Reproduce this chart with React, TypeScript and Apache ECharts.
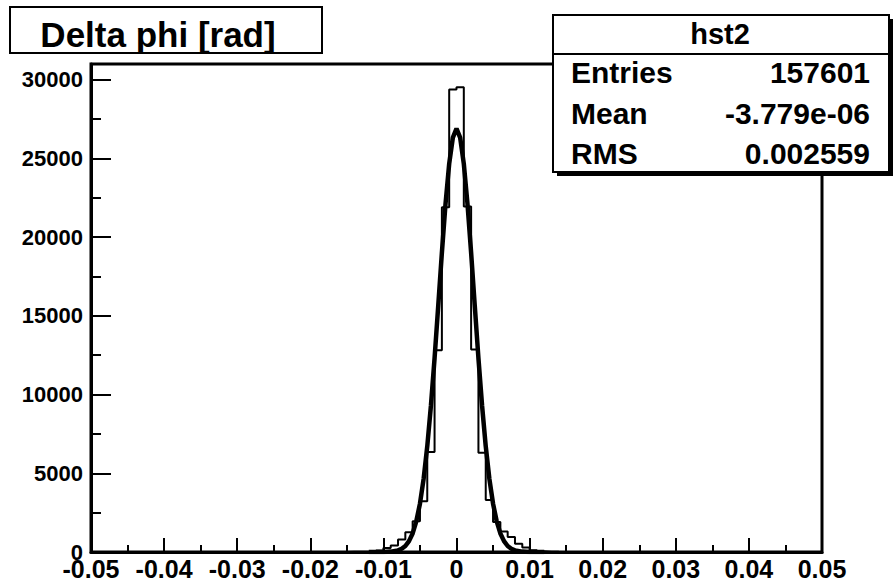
import React, { useEffect, useRef } from 'react';
import * as echarts from 'echarts';

// Histogram "hst2": 100 bins from -0.05 to 0.05
const binLow = -0.05;
const binWidth = 0.001;
const counts: number[] = [
  0, 0, 0, 0, 0, 0, 0, 0, 0, 0,
  0, 0, 0, 0, 0, 0, 0, 0, 0, 0,
  0, 0, 0, 0, 0, 0, 0, 0, 0, 0,
  0, 0, 0, 0, 0, 8, 12, 20, 45, 100,
  250, 420, 800, 1250, 1950, 3220, 6350, 12820, 21900, 29380,
  29530, 21950, 12860, 6300, 3300, 1900, 1300, 950, 530, 280,
  110, 50, 20, 10, 5, 0, 0, 0, 0, 0,
  0, 0, 0, 0, 0, 0, 0, 0, 0, 0,
  0, 0, 0, 0, 0, 0, 0, 0, 0, 0,
  0, 0, 0, 0, 0, 0, 0, 0, 0, 0,
];

// Fit curve, points
const fitX: number[] = [
  -0.012, -0.011, -0.01, -0.009, -0.008, -0.0075, -0.007, -0.0065, -0.006, -0.0055,
  -0.005, -0.0045, -0.004, -0.0035, -0.003, -0.0025, -0.002, -0.0015, -0.001, -0.0005,
  0,
  0.0005, 0.001, 0.0015, 0.002, 0.0025, 0.003, 0.0035, 0.004, 0.0045, 0.005,
  0.0055, 0.006, 0.0065, 0.007, 0.0075, 0.008, 0.009, 0.01, 0.011, 0.012,
];
const fitY: number[] = [
  0, 1, 5, 25, 105, 205, 380, 690, 1180, 1950,
  3070, 4640, 6710, 9290, 12310, 15640, 19010, 22130, 24660, 26320,
  26900,
  26320, 24660, 22130, 19010, 15640, 12310, 9290, 6710, 4640, 3070,
  1950, 1180, 690, 380, 205, 105, 25, 5, 1, 0,
];

const xMin = -0.05;
const xMax = 0.05;
const xStep = 0.01;
const xTickLabels = ['-0.05', '-0.04', '-0.03', '-0.02', '-0.01', '0', '0.01', '0.02', '0.03', '0.04', '0.05'];
const yMax = 31000;
const yStep = 5000;
const yTickLabels = ['0', '5000', '10000', '15000', '20000', '25000', '30000'];

const titleText = 'Delta phi [rad]';
const statsName = 'hst2';
const statsLabels = ['Entries', 'Mean', 'RMS'];
const statsValues = ['157601', '-3.779e-06', '0.002559'];

const FONT = '"Liberation Sans", Arial, Helvetica, sans-serif';

export default function App() {
  const ref = useRef<HTMLDivElement>(null);
  useEffect(() => {
    const chart = echarts.init(ref.current!, null, { renderer: 'svg' });
    const histData: number[][] = [];
    counts.forEach((c, i) => {
      const lo = binLow + i * binWidth;
      histData.push([+lo.toFixed(4), c], [+(lo + binWidth).toFixed(4), c]);
    });
    const fitData = fitX.map((x, i) => [x, fitY[i]]);

    const statsBox = { x: 553, y: 15, w: 336, h: 157 };
    const rowY = [72, 113, 153];

    const graphic: any[] = [
      {
        type: 'rect',
        shape: { x: 10, y: 7, width: 312, height: 46 },
        style: { fill: '#fff', stroke: '#000', lineWidth: 2 },
        z: 100,
      },
      {
        type: 'text',
        x: 158,
        y: 34,
        style: {
          text: titleText, fill: '#000', fontFamily: FONT, fontWeight: 'bold', fontSize: 35,
          align: 'center', verticalAlign: 'middle',
        },
        z: 101,
      },
      {
        type: 'rect',
        shape: { x: statsBox.x + 4, y: statsBox.y + 4, width: statsBox.w, height: statsBox.h },
        style: { fill: '#000' },
        z: 100,
      },
      {
        type: 'rect',
        shape: { x: statsBox.x, y: statsBox.y, width: statsBox.w, height: statsBox.h },
        style: { fill: '#fff', stroke: '#000', lineWidth: 2 },
        z: 101,
      },
      {
        type: 'line',
        shape: { x1: statsBox.x, y1: 54, x2: statsBox.x + statsBox.w, y2: 54 },
        style: { stroke: '#000', lineWidth: 2 },
        z: 102,
      },
      {
        type: 'text',
        x: 720,
        y: 34,
        style: {
          text: statsName, fill: '#000', fontFamily: FONT, fontWeight: 'bold', fontSize: 29,
          align: 'center', verticalAlign: 'middle',
        },
        z: 102,
      },
    ];
    statsLabels.forEach((lab, i) => {
      graphic.push({
        type: 'text', x: 571, y: rowY[i], z: 102,
        style: { text: lab, fill: '#000', fontFamily: FONT, fontWeight: 'bold', fontSize: 30, align: 'left', verticalAlign: 'middle' },
      });
      graphic.push({
        type: 'text', x: 870, y: rowY[i], z: 102,
        style: { text: statsValues[i], fill: '#000', fontFamily: FONT, fontWeight: 'bold', fontSize: 30, align: 'right', verticalAlign: 'middle' },
      });
    });

    const labelStyle = { color: '#000', fontFamily: FONT, fontWeight: 'bold' as const };

    chart.setOption({
      animation: false,
      backgroundColor: '#fff',
      grid: {
        left: 91, top: 64, width: 731, height: 488,
        show: true, borderColor: '#000', borderWidth: 3, backgroundColor: 'transparent',
      },
      xAxis: {
        type: 'value', min: xMin, max: xMax, interval: xStep,
        axisLine: { onZero: false, lineStyle: { color: '#000', width: 3 } },
        axisTick: { inside: true, length: 14, lineStyle: { color: '#000', width: 2 } },
        minorTick: { show: true, splitNumber: 2, length: 7, lineStyle: { color: '#000', width: 2 } },
        axisLabel: {
          ...labelStyle, fontSize: 25, margin: 4,
          formatter: (v: number) => {
            const idx = Math.round((v - xMin) / xStep);
            return Math.abs(v - (xMin + idx * xStep)) < 1e-9 ? (xTickLabels[idx] ?? '') : '';
          },
        },
        splitLine: { show: false },
      },
      yAxis: [
        {
          type: 'value', min: 0, max: yMax, interval: yStep,
          axisLine: { show: true, onZero: false, lineStyle: { color: '#000', width: 3 } },
          axisTick: { show: true, inside: true, length: 20, lineStyle: { color: '#000', width: 2 } },
          axisLabel: {
            ...labelStyle, fontSize: 22, margin: 8,
            formatter: (v: number) => {
              const idx = Math.round(v / yStep);
              return Math.abs(v - idx * yStep) < 1e-6 ? (yTickLabels[idx] ?? '') : '';
            },
          },
          splitLine: { show: false },
        },
        {
          type: 'value', min: 0, max: yMax, interval: yStep / 2, position: 'left',
          axisLine: { show: false, onZero: false },
          axisTick: { show: true, inside: true, length: 10, lineStyle: { color: '#000', width: 2 } },
          axisLabel: { show: false },
          splitLine: { show: false },
        },
      ],
      series: [
        {
          type: 'line', data: histData, symbol: 'none', yAxisIndex: 0,
          lineStyle: { color: '#000', width: 2 }, z: 3,
        },
        {
          type: 'line', data: fitData, symbol: 'none', yAxisIndex: 0,
          lineStyle: { color: '#000', width: 4.5 }, z: 4,
        },
      ],
      graphic,
    });
    return () => chart.dispose();
  }, []);
  return (
    <div
      ref={ref}
      style={{ position: 'absolute', left: 0, top: 0, width: 893, height: 581, background: '#fff' }}
    />
  );
}
